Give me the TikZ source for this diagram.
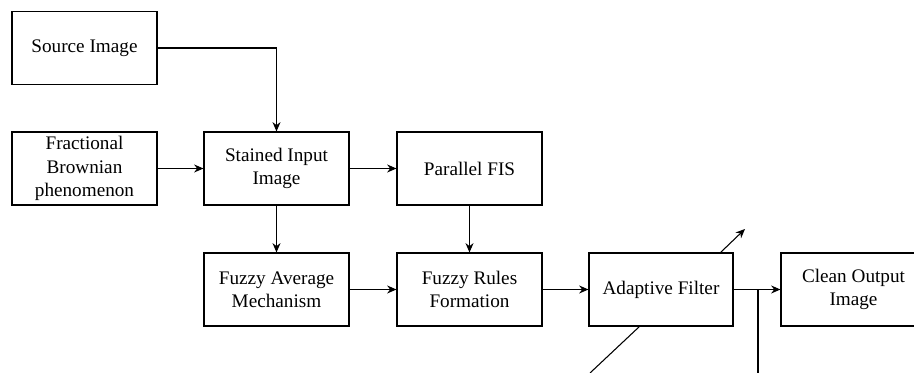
\documentclass[tikz,border=0pt]{standalone}
\usepackage{fontspec}
\setmainfont{Liberation Serif}
\usetikzlibrary{arrows.meta}
\begin{document}
\begin{tikzpicture}[x=0.75pt,y=-0.75pt,
  blk/.style={draw,line width=0.8pt,minimum width=108.75pt,minimum height=54.75pt,inner sep=0pt,align=center,font=\rmfamily\fontsize{14.4}{17.5}\selectfont},
  conn/.style={line width=0.8pt,-{Stealth[length=7pt,width=6pt]}},
  plain/.style={line width=0.8pt}]
\useasboundingbox (0,0) rectangle (914,373);
\clip (0,0) rectangle (914,373);
\node[blk] (src) at (84.5,48) {Source Image};
\node[blk] (frac) at (84.5,168.5) {Fractional\\Brownian\\phenomenon};
\node[blk] (stain) at (276.5,168.5) {Stained Input\\Image};
\node[blk] (pfis) at (469.5,168.5) {Parallel FIS};
\node[blk] (favg) at (276.5,289.5) {Fuzzy Average\\Mechanism};
\node[blk] (frules) at (469.5,289.5) {Fuzzy Rules\\Formation};
\node[blk,minimum width=108pt] (adapt) at (661,289.5) {Adaptive Filter};
\node[blk] (clean) at (853.5,289.5) {Clean Output\\Image};
\coordinate (j) at (758,289.5);
\coordinate (jb) at (758,373);
\coordinate (d1) at (640,326);
\coordinate (d2) at (590,373);
\coordinate (a1) at (720,253);
\coordinate (a2) at (745,229);
\draw[conn] (src.east) -| (stain.north);
\draw[conn] (frac.east) -- (stain.west);
\draw[conn] (stain.east) -- (pfis.west);
\draw[conn] (stain.south) -- (favg.north);
\draw[conn] (pfis.south) -- (frules.north);
\draw[conn] (favg.east) -- (frules.west);
\draw[conn] (frules.east) -- (adapt.west);
\draw[conn] (adapt.east) -- (clean.west);
\draw[plain] (j) -- (jb);
\draw[plain] (d1) -- (d2);
\draw[conn] (a1) -- (a2);
\end{tikzpicture}
\end{document}
